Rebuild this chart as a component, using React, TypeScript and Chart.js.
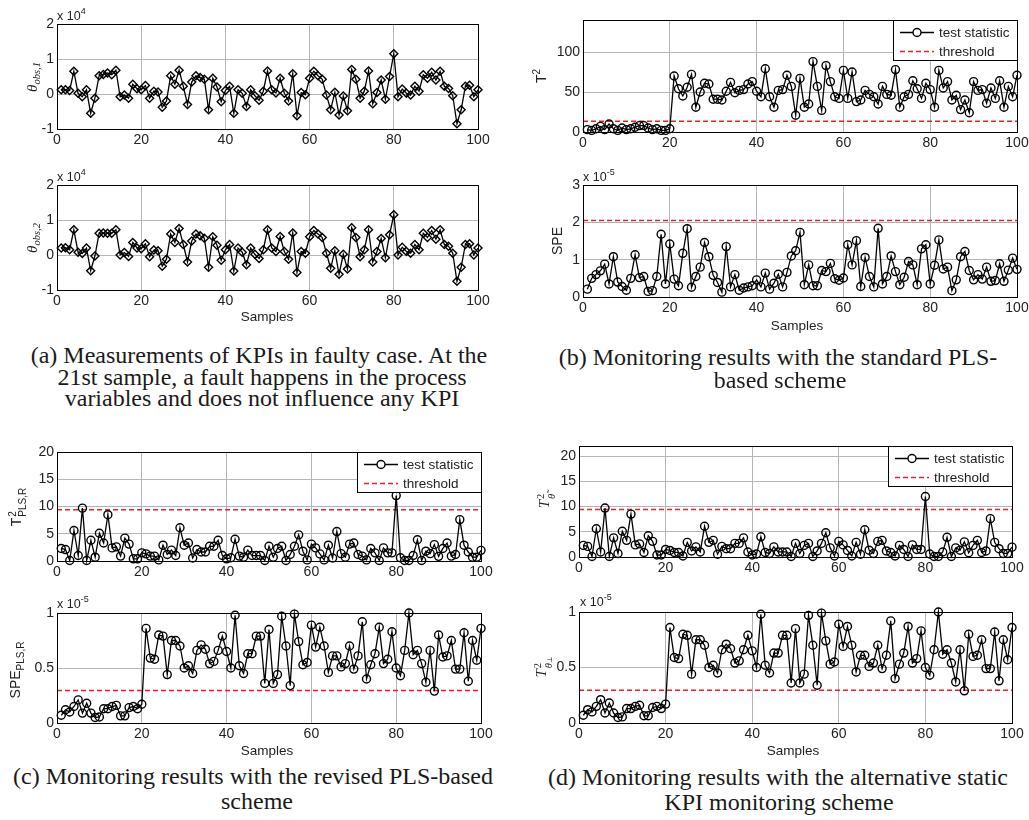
import React, { useEffect, useRef } from "react";
import { Chart, registerables } from "chart.js";

Chart.register(...registerables);

// ---------------- data ----------------
const sampleIdx = Array.from({ length: 100 }, (_, i) => i + 1);
const xRange = [0, 100];
const xTicks = [0, 20, 40, 60, 80, 100];

// (a) KPI measurements (x 10^4)
const thetaObs1 = [
  0.12, 0.12, 0.1, 0.65, 0.02, -0.08, 0.12, -0.55, -0.12, 0.52,
  0.56, 0.6, 0.55, 0.68, -0.08, -0.03, -0.12, 0.28, 0.15, 0.12,
  0.24, -0.12, 0.08, 0.06, -0.38, -0.2, 0.52, 0.28, 0.68, 0.22,
  -0.3, 0.34, 0.52, 0.47, 0.42, -0.45, 0.45, 0.2, -0.22, 0.1,
  0.22, -0.55, 0.12, 0.02, -0.36, 0.12, -0.05, -0.18, 0.08, 0.66,
  0.12, 0.03, 0.45, 0.02, -0.2, 0.58, -0.62, 0.04, -0.02, 0.45,
  0.65, 0.52, 0.42, -0.03, -0.45, 0.05, -0.6, -0.06, -0.48, 0.7,
  0.42, -0.12, 0.08, 0.66, -0.28, 0.04, 0.4, -0.15, 0.5, 1.15,
  -0.08, 0.14, 0.02, -0.03, 0.22, 0.08, 0.55, 0.45, 0.62, 0.4,
  0.65, 0.22, 0.16, -0.05, -0.85, -0.45, 0.22, 0.25, -0.08, 0.12,
];
const thetaObs2 = [
  0.2, 0.21, 0.15, 0.72, 0.08, 0.04, 0.2, -0.45, -0.03, 0.62,
  0.63, 0.62, 0.62, 0.72, 0.0, 0.07, -0.04, 0.36, 0.2, 0.18,
  0.32, -0.05, 0.14, 0.12, -0.32, -0.12, 0.6, 0.36, 0.76, 0.3,
  -0.2, 0.4, 0.6, 0.55, 0.48, -0.35, 0.52, 0.28, -0.15, 0.15,
  0.3, -0.46, 0.2, 0.08, -0.28, 0.2, 0.02, -0.1, 0.15, 0.72,
  0.2, 0.1, 0.53, 0.1, -0.12, 0.63, -0.5, 0.1, 0.05, 0.52,
  0.7, 0.6, 0.5, 0.05, -0.38, 0.12, -0.55, 0.02, -0.4, 0.78,
  0.5, -0.05, 0.15, 0.72, -0.2, 0.1, 0.47, -0.08, 0.58, 1.15,
  0.0, 0.22, 0.1, 0.05, 0.3, 0.15, 0.62, 0.5, 0.7, 0.45,
  0.72, 0.3, 0.25, 0.05, -0.75, -0.35, 0.3, 0.32, 0.0, 0.2,
];

// (b) standard PLS
const t2Std = [
  3, 2, 4, 7, 3, 10, 4, 2, 5, 3,
  4, 6, 8, 8, 5, 3, 4, 2, 2, 4,
  70, 54, 45, 56, 72, 31, 50, 61, 60, 41,
  41, 40, 51, 62, 49, 52, 53, 60, 63, 51,
  44, 79, 44, 31, 52, 53, 71, 57, 21, 67,
  31, 35, 88, 57, 27, 83, 63, 44, 42, 77,
  42, 75, 38, 40, 52, 47, 44, 35, 57, 47,
  46, 78, 31, 44, 47, 64, 54, 42, 61, 53,
  31, 77, 55, 63, 40, 46, 28, 40, 24, 63,
  52, 53, 36, 55, 42, 64, 31, 57, 44, 71,
];
const t2StdThreshold = 13.5;
const speStd = [ // x 10^-5
  0.21, 0.5, 0.6, 0.7, 0.88, 0.35, 1.08, 0.4, 0.28, 0.18,
  0.5, 1.13, 0.52, 0.55, 0.15, 0.17, 0.55, 1.68, 0.35, 1.42,
  0.48, 0.3, 1.17, 1.83, 0.26, 0.55, 0.8, 1.46, 1.08, 0.58,
  0.39, 0.13, 1.35, 0.27, 0.6, 0.18, 0.24, 0.27, 0.3, 0.46,
  0.27, 0.64, 0.21, 0.37, 0.61, 0.27, 0.66, 1.1, 1.24, 1.73,
  0.33, 0.86, 0.3, 0.3, 0.71, 0.68, 0.9, 0.49, 0.45, 0.51,
  1.4, 0.86, 1.51, 0.28, 1.06, 0.55, 0.27, 1.84, 0.35, 0.55,
  1.1, 0.68, 0.33, 0.53, 0.95, 0.86, 0.33, 1.29, 1.4, 0.35,
  0.85, 1.53, 0.75, 0.8, 0.17, 0.46, 1.08, 1.22, 0.71, 0.46,
  0.6, 0.48, 0.8, 0.42, 0.44, 0.89, 0.42, 0.72, 1.04, 0.74,
];
const speStdThreshold = 2.05;

// (c)/(d) revised PLS / alternative static scheme
const t2Revised = [
  2.3, 2.1, 0.1, 5.6, 1.0, 9.7, 0.1, 3.8, 0.7, 5.1,
  3.3, 8.5, 2.4, 2.6, 0.9, 4.2, 3.1, 0.4, 0.4, 1.5,
  1.3, 0.9, 0.9, 0.2, 2.9, 1.2, 2.0, 1.0, 6.1, 2.9,
  3.3, 0.55, 2.1, 1.65, 1.65, 2.7, 2.7, 3.8, 1.0, 0.4,
  0.6, 4.0, 0.9, 0.7, 2.0, 1.0, 1.0, 1.0, 0.1, 2.7,
  0.7, 2.3, 2.7, 0.1, 1.2, 2.7, 4.8, 1.8, 0.2, 3.1,
  2.4, 1.3, 0.2, 2.9, 0.55, 5.4, 1.35, 0.7, 3.1, 3.3,
  1.2, 0.9, 0.2, 2.3, 1.5, 0.1, 2.4, 1.5, 1.5, 12.0,
  0.6, 0.1, 0.1, 1.0, 3.9, 0.1, 1.8, 1.35, 3.0, 0.85,
  2.3, 3.3, 0.9, 1.2, 7.6, 2.9, 1.65, 0.7, 0.7, 1.95,
];
const t2RevisedThreshold = 9.4;
const speRevised = [ // x 10^-5
  0.07, 0.12, 0.1, 0.15, 0.21, 0.09, 0.18, 0.09, 0.05, 0.055,
  0.13, 0.13, 0.15, 0.16, 0.065, 0.065, 0.14, 0.15, 0.13, 0.17,
  0.86, 0.59, 0.58, 0.8, 0.79, 0.44, 0.75, 0.75, 0.7, 0.5,
  0.52, 0.45, 0.66, 0.71, 0.67, 0.54, 0.56, 0.66, 0.79, 0.65,
  0.5, 0.98, 0.52, 0.45, 0.63, 0.63, 0.79, 0.79, 0.36, 0.85,
  0.36, 0.44, 0.97, 0.7, 0.34, 0.99, 0.74, 0.53, 0.55, 0.89,
  0.69, 0.87, 0.7, 0.46, 0.61, 0.61, 0.51, 0.54, 0.7, 0.49,
  0.61, 0.92, 0.4, 0.53, 0.63, 0.87, 0.54, 0.58, 0.83, 0.5,
  0.43, 0.66, 1.0, 0.62, 0.66, 0.54, 0.37, 0.66, 0.29, 0.8,
  0.6, 0.61, 0.75, 0.49, 0.49, 0.82, 0.38, 0.75, 0.57, 0.86,
];
const speRevisedThreshold = 0.295;

const yTicksA = [-1, 0, 1, 2];
const yTicksT2Std = [0, 50, 100];
const yTicksSpeStd = [0, 1, 2, 3];
const yTicksT2Rev = [0, 5, 10, 15, 20];
const yTicksSpeRev = [0, 0.5, 1];

const legendLabels = ["test statistic", "threshold"];

// ---------------- styles ----------------
const SANS = '"Liberation Sans", Arial, Helvetica, sans-serif';
const SERIF = '"Liberation Serif", "Times New Roman", "DejaVu Serif", serif';
const TEXT = "#222";
const GRID = "#b5b5b5";
const RED = "#f01e1e";

const PAD_L = 50, PAD_T = 15, PAD_R = 25, PAD_B = 30;

const panels = [
  { key: "a1", L: 57, T: 24, R: 478, B: 129, min: -1, max: 2, ticks: yTicksA, values: thetaObs1, marker: "rectRot" },
  { key: "a2", L: 57, T: 185, R: 478, B: 290, min: -1, max: 2, ticks: yTicksA, values: thetaObs2, marker: "rectRot" },
  { key: "b1", L: 583, T: 20, R: 1017, B: 132, min: 0, max: 140, ticks: yTicksT2Std, values: t2Std, marker: "circle", threshold: t2StdThreshold, legend: true },
  { key: "b2", L: 583, T: 185, R: 1017, B: 297, min: 0, max: 3, ticks: yTicksSpeStd, values: speStd, marker: "circle", threshold: speStdThreshold },
  { key: "c1", L: 57, T: 452, R: 481, B: 561, min: 0, max: 20, ticks: yTicksT2Rev, values: t2Revised, marker: "circle", threshold: t2RevisedThreshold, legend: true },
  { key: "c2", L: 57, T: 613, R: 481, B: 723, min: 0, max: 1, ticks: yTicksSpeRev, values: speRevised, marker: "circle", threshold: speRevisedThreshold },
  { key: "d1", L: 579, T: 446, R: 1012, B: 557, min: 0, max: 22, ticks: yTicksT2Rev, values: t2Revised, marker: "circle", threshold: t2RevisedThreshold, legend: true },
  { key: "d2", L: 579, T: 612, R: 1012, B: 723, min: 0, max: 1, ticks: yTicksSpeRev, values: speRevised, marker: "circle", threshold: speRevisedThreshold },
];

const framePlugin = {
  id: "frame",
  afterDraw(chart: any, _args: any, opts: any) {
    const { ctx, chartArea: a } = chart;
    ctx.save();
    const l = Math.round(a.left), t = Math.round(a.top), r = Math.round(a.right), b = Math.round(a.bottom);
    if (opts && opts.legend) {
      const bw = 124, bh = 40;
      const x0 = r - bw, y0 = t;
      ctx.fillStyle = "#fff";
      ctx.fillRect(x0, y0, bw, bh);
      ctx.strokeStyle = "#000";
      ctx.lineWidth = 1;
      ctx.strokeRect(x0 + 0.5, y0 + 0.5, bw, bh);
      const y1 = y0 + 12.5, y2 = y0 + 31.5;
      ctx.beginPath();
      ctx.moveTo(x0 + 7, y1);
      ctx.lineTo(x0 + 41, y1);
      ctx.lineWidth = 1.4;
      ctx.stroke();
      ctx.beginPath();
      ctx.arc(x0 + 24, y1, 4, 0, Math.PI * 2);
      ctx.fillStyle = "#fff";
      ctx.fill();
      ctx.stroke();
      ctx.beginPath();
      ctx.setLineDash([5, 3]);
      ctx.strokeStyle = RED;
      ctx.lineWidth = 1.5;
      ctx.moveTo(x0 + 7, y2);
      ctx.lineTo(x0 + 41, y2);
      ctx.stroke();
      ctx.setLineDash([]);
      ctx.fillStyle = TEXT;
      ctx.font = `13.5px ${SANS}`;
      ctx.textBaseline = "middle";
      ctx.textAlign = "left";
      ctx.fillText(legendLabels[0], x0 + 46, y1 + 1);
      ctx.fillText(legendLabels[1], x0 + 46, y2 + 1);
    }
    ctx.strokeStyle = "#000";
    ctx.lineWidth = 1;
    ctx.strokeRect(l + 0.5, t + 0.5, r - l, b - t);
    ctx.restore();
  },
};

function Panel({ p }: { p: any }) {
  const ref = useRef<HTMLCanvasElement>(null);
  const W = p.R - p.L + PAD_L + PAD_R;
  const H = p.B - p.T + PAD_T + PAD_B;
  useEffect(() => {
    const datasets: any[] = [
      {
        data: p.values.map((v: number, i: number) => ({ x: sampleIdx[i], y: v })),
        borderColor: "#000",
        borderWidth: 1.3,
        pointStyle: p.marker,
        pointRadius: 4,
        pointBorderWidth: 1.4,
        pointBorderColor: "#000",
        pointBackgroundColor: "rgba(0,0,0,0)",
        tension: 0,
        fill: false,
        clip: false,
      },
    ];
    if (p.threshold != null) {
      datasets.push({
        data: [
          { x: xRange[0], y: p.threshold },
          { x: xRange[1], y: p.threshold },
        ],
        borderColor: RED,
        borderWidth: 1.5,
        borderDash: [5, 3],
        pointRadius: 0,
        fill: false,
      });
    }
    const tickFont = { family: SANS, size: 14 };
    const chart = new Chart(ref.current as HTMLCanvasElement, {
      type: "line",
      data: { datasets },
      options: {
        responsive: false,
        animation: false,
        devicePixelRatio: 1,
        events: [],
        layout: { padding: { left: 0, top: PAD_T, right: PAD_R, bottom: 0 } },
        plugins: {
          legend: { display: false },
          tooltip: { enabled: false },
          frame: { legend: !!p.legend },
        } as any,
        scales: {
          x: {
            type: "linear",
            min: xRange[0],
            max: xRange[1],
            afterBuildTicks: (s: any) => {
              s.ticks = xTicks.map((v) => ({ value: v }));
            },
            afterFit: (s: any) => {
              s.height = PAD_B;
            },
            ticks: { font: tickFont, color: TEXT, padding: 3, maxRotation: 0, autoSkip: false, callback: (v: any) => String(v) },
            grid: { color: GRID, lineWidth: 1, drawTicks: false },
            border: { display: true, color: "#000", width: 1 },
          },
          y: {
            type: "linear",
            min: p.min,
            max: p.max,
            afterBuildTicks: (s: any) => {
              s.ticks = p.ticks.map((v: number) => ({ value: v }));
            },
            afterFit: (s: any) => {
              s.width = PAD_L;
            },
            ticks: { font: tickFont, color: TEXT, padding: 3, autoSkip: false, callback: (v: any) => String(v) },
            grid: { color: GRID, lineWidth: 1, drawTicks: false },
            border: { display: true, color: "#000", width: 1 },
          },
        } as any,
      },
      plugins: [framePlugin as any],
    });
    return () => chart.destroy();
  }, []);
  return (
    <canvas
      ref={ref}
      width={W}
      height={H}
      style={{ position: "absolute", left: p.L - PAD_L, top: p.T - PAD_T, width: W, height: H }}
    />
  );
}

const Center = ({ x, y, style, children }: any) => (
  <div
    style={{
      position: "absolute",
      left: x,
      top: y,
      transform: "translate(-50%,-50%)",
      whiteSpace: "nowrap",
      lineHeight: 1,
      color: TEXT,
      ...style,
    }}
  >
    {children}
  </div>
);

const Rot = ({ x, y, style, children }: any) => (
  <div
    style={{
      position: "absolute",
      left: x,
      top: y,
      transform: "translate(-50%,-50%) rotate(-90deg)",
      whiteSpace: "nowrap",
      lineHeight: 1,
      color: TEXT,
      ...style,
    }}
  >
    {children}
  </div>
);

const Stack = ({ sup, sub, size, style }: any) => (
  <span
    style={{
      display: "inline-flex",
      flexDirection: "column",
      fontSize: size,
      lineHeight: 1,
      verticalAlign: 5,
      marginLeft: 1,
      ...style,
    }}
  >
    <span>{sup}</span>
    <span>{sub}</span>
  </span>
);

const Exp = ({ x, cy, e }: any) => (
  <div
    style={{
      position: "absolute",
      left: x,
      top: cy - 6,
      fontFamily: SANS,
      fontSize: 12.5,
      lineHeight: 1,
      color: TEXT,
      whiteSpace: "nowrap",
    }}
  >
    x 10<span style={{ fontSize: 9, position: "relative", top: -6 }}>{e}</span>
  </div>
);

const capStyle = { fontFamily: SERIF, fontSize: 24, color: "#1a1a1a" };

export default function App() {
  return (
    <div
      style={{
        position: "absolute",
        left: 0,
        top: 0,
        width: 1029,
        height: 820,
        background: "#fff",
        overflow: "hidden",
      }}
    >
      {panels.map((p) => (
        <Panel key={p.key} p={p} />
      ))}

      {/* exponent labels */}
      <Exp x={57} cy={16} e="4" />
      <Exp x={57} cy={177} e="4" />
      <Exp x={583} cy={177} e="-5" />
      <Exp x={57} cy={604} e="-5" />
      <Exp x={580} cy={602} e="-5" />

      {/* y labels */}
      <Rot x={32} y={77} style={{ fontFamily: SERIF, fontSize: 15 }}>
        <i>θ</i>
        <span style={{ fontSize: 10.5, fontStyle: "italic", position: "relative", top: 3 }}>obs,1</span>
      </Rot>
      <Rot x={32} y={238} style={{ fontFamily: SERIF, fontSize: 15 }}>
        <i>θ</i>
        <span style={{ fontSize: 10.5, fontStyle: "italic", position: "relative", top: 3 }}>obs,2</span>
      </Rot>
      <Rot x={541} y={76} style={{ fontFamily: SANS, fontSize: 14 }}>
        T<span style={{ fontSize: 10, position: "relative", top: -6 }}>2</span>
      </Rot>
      <Rot x={557} y={241} style={{ fontFamily: SANS, fontSize: 14 }}>
        SPE
      </Rot>
      <Rot x={18} y={507} style={{ fontFamily: SANS, fontSize: 14 }}>
        T<Stack sup="2" sub="PLS,R" size={10} />
      </Rot>
      <Rot x={15} y={670} style={{ fontFamily: SANS, fontSize: 14 }}>
        SPE<span style={{ fontSize: 10, position: "relative", top: 4 }}>PLS,R</span>
      </Rot>
      <Rot x={546} y={501} style={{ fontFamily: SERIF, fontSize: 15 }}>
        <i>T</i>
        <Stack sup="2" sub={<i>θ̃</i>} size={10.5} />
      </Rot>
      <Rot x={543} y={667} style={{ fontFamily: SERIF, fontSize: 15 }}>
        <i>T</i>
        <Stack
          sup="2"
          sub={
            <span>
              <i>θ</i>
              <span style={{ fontSize: 7 }}>⊥</span>
            </span>
          }
          size={10.5}
        />
      </Rot>

      {/* x titles */}
      <Center x={267} y={317} style={{ fontFamily: SANS, fontSize: 13.5 }}>Samples</Center>
      <Center x={797} y={326} style={{ fontFamily: SANS, fontSize: 13.5 }}>Samples</Center>
      <Center x={267} y={751} style={{ fontFamily: SANS, fontSize: 13.5 }}>Samples</Center>
      <Center x={793} y={751} style={{ fontFamily: SANS, fontSize: 13.5 }}>Samples</Center>

      {/* captions */}
      <Center x={259} y={355} style={capStyle}>(a) Measurements of KPIs in faulty case. At the</Center>
      <Center x={262} y={377} style={capStyle}>21st sample, a fault happens in the process</Center>
      <Center x={262} y={398} style={capStyle}>variables and does not influence any KPI</Center>

      <Center x={778} y={357} style={capStyle}>(b) Monitoring results with the standard PLS-</Center>
      <Center x={780} y={380} style={capStyle}>based scheme</Center>

      <Center x={253} y={776} style={capStyle}>(c) Monitoring results with the revised PLS-based</Center>
      <Center x={257} y={801} style={capStyle}>scheme</Center>

      <Center x={778} y={777} style={capStyle}>(d) Monitoring results with the alternative static</Center>
      <Center x={779} y={802} style={capStyle}>KPI monitoring scheme</Center>
    </div>
  );
}
